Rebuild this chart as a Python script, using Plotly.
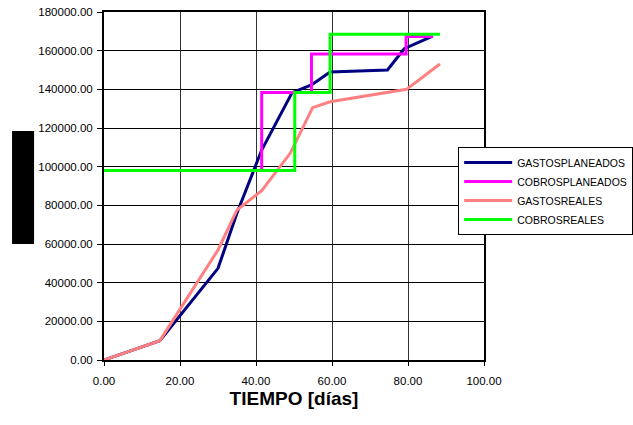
import plotly.graph_objects as go

# valores
dias_gastos_plan = [0, 14.7, 30, 35, 41.5, 49.5, 54.6, 59.5, 74.6, 79, 86.5]
gastos_plan = [0, 10000, 47400, 76000, 108600, 138300, 142300, 149000, 150000, 161000, 167500]

dias_cobros_plan = [0, 41.5, 54.6, 79.5, 86.6]
cobros_plan = [98000, 138300, 158300, 167300, 167300]

dias_gastos_real = [0, 14.7, 30, 35, 41.5, 49, 54.9, 59.5, 79.6, 88.4]
gastos_real = [0, 10000, 56900, 77600, 87600, 106900, 130500, 133600, 140000, 153100]

dias_cobros_real = [0, 50.2, 59.5, 88.4]
cobros_real = [98000, 138300, 168500, 168500]

fig = go.Figure()
fig.add_trace(go.Scatter(x=dias_gastos_plan, y=gastos_plan, mode='lines', name='GASTOSPLANEADOS',
                         line=dict(color='#000080', width=3)))
fig.add_trace(go.Scatter(x=dias_cobros_plan, y=cobros_plan, mode='lines', name='COBROSPLANEADOS',
                         line=dict(color='#FF00FF', width=3, shape='hv')))
fig.add_trace(go.Scatter(x=dias_gastos_real, y=gastos_real, mode='lines', name='GASTOSREALES',
                         line=dict(color='#FF8080', width=3)))
fig.add_trace(go.Scatter(x=dias_cobros_real, y=cobros_real, mode='lines', name='COBROSREALES',
                         line=dict(color='#00FF00', width=3, shape='hv')))

fig.update_layout(
    width=633, height=425,
    margin=dict(l=104, r=149, t=12, b=65, autoexpand=False),
    paper_bgcolor='white', plot_bgcolor='white',
    font=dict(family='Arial', size=11.5, color='black'),
    legend=dict(x=0.932, y=0.612, xanchor='left', yanchor='top',
                bgcolor='white', bordercolor='black', borderwidth=1,
                font=dict(size=10.5, color='black'), tracegroupgap=0, itemwidth=48),
    shapes=[dict(type='rect', xref='paper', yref='paper', x0=-0.242, x1=-0.184,
                 y0=0.333, y1=0.658, fillcolor='black', line=dict(width=0))],
)
fig.update_xaxes(range=[0, 100], dtick=20, tickformat='.2f', showgrid=True, gridcolor='#333',
                 gridwidth=1, showline=True, linecolor='black', linewidth=2, mirror=True,
                 ticks='outside', ticklen=4, tickcolor='black', zeroline=False,
                 ticklabelstandoff=5,
                 title=dict(text='<b>TIEMPO [días]</b>', font=dict(size=19, color='black'), standoff=6))
fig.update_yaxes(range=[0, 180000], dtick=20000, tickformat='.2f', showgrid=True, gridcolor='black',
                 gridwidth=1, showline=True, linecolor='black', linewidth=2, mirror=True,
                 ticks='outside', ticklen=5, tickcolor='black', zeroline=False,
                 ticklabelstandoff=2)

# sin margen del body para que el grafico quede en 0,0
fig.write_html("out.html", config={'displayModeBar': False},
               post_script="document.body.style.margin='0';")
